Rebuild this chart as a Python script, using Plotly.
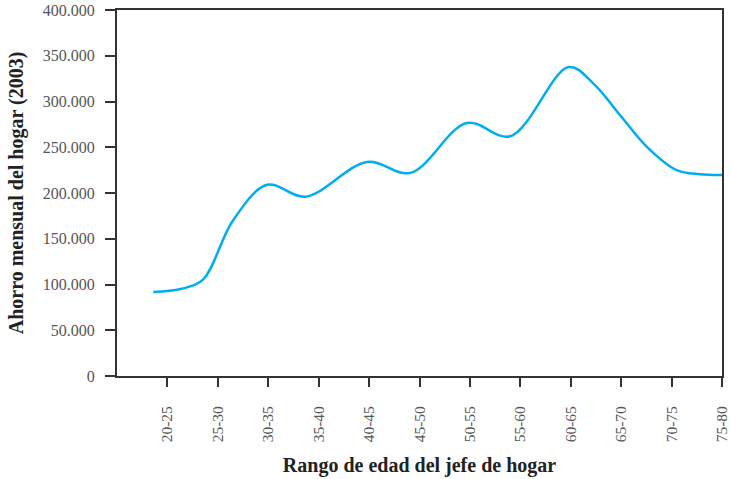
import plotly.graph_objects as go

# rangos de edad (etiquetas del eje x) y su edad central
rangos = ["20-25", "25-30", "30-35", "35-40", "40-45", "45-50",
          "50-55", "55-60", "60-65", "65-70", "70-75", "75-80"]
edad_central = [22.5, 27.5, 32.5, 37.5, 42.5, 47.5,
                52.5, 57.5, 62.5, 67.5, 72.5, 77.5]

# curva suavizada: edad vs ahorro mensual (pesos 2003)
edad = [21.1, 23.8, 26.0, 29.0, 32.4, 36.2, 42.3, 46.6,
        52.2, 56.5, 62.3, 64.8, 67.4, 70.0, 73.0, 75.3, 77.5]
ahorro = [91800, 95000, 105000, 170000, 209000, 196000, 234000, 222000,
          276500, 262000, 337700, 319000, 285000, 251000, 225000, 220500, 219700]

fuente = "Liberation Serif"

fig = go.Figure()
fig.add_trace(go.Scatter(
    x=edad, y=ahorro, mode="lines",
    line=dict(color="#00aeef", width=2.5, shape="spline", smoothing=1.0),
    hoverinfo="skip", showlegend=False
))

fig.update_layout(
    width=731, height=479,
    margin=dict(l=117, r=9, t=10, b=103),
    paper_bgcolor="white", plot_bgcolor="white",
    separators=",.",
    font=dict(family=fuente, size=16, color="#555555"),
    xaxis=dict(
        range=[17.5, 77.5], automargin=False,
        tickmode="array", tickvals=edad_central, ticktext=rangos,
        tickangle=-90, ticks="outside", ticklen=9, tickwidth=2, tickcolor="#333333",
        ticklabelstandoff=13, tickfont=dict(size=15.5),
        showline=True, linecolor="#333333", linewidth=2, mirror=True,
        showgrid=False, zeroline=False,
        title=dict(text="<b>Rango de edad del jefe de hogar</b>",
                   font=dict(family=fuente, size=20, color="#222222"), standoff=17),
    ),
    yaxis=dict(
        range=[0, 400000], dtick=50000, tickformat=",d", automargin=False,
        ticks="outside", ticklen=10, tickwidth=2, tickcolor="#333333",
        ticklabelstandoff=7,
        showline=True, linecolor="#333333", linewidth=2, mirror=True,
        showgrid=False, zeroline=False,
        title=dict(text="<b>Ahorro mensual del hogar (2003)</b>",
                   font=dict(family=fuente, size=20, color="#222222"), standoff=14),
    ),
)

# quitar el margen por defecto del body para que la figura empiece en (0, 0)
fig.write_html("out.html", config={"displayModeBar": False},
               post_script="document.body.style.margin = '0';")
